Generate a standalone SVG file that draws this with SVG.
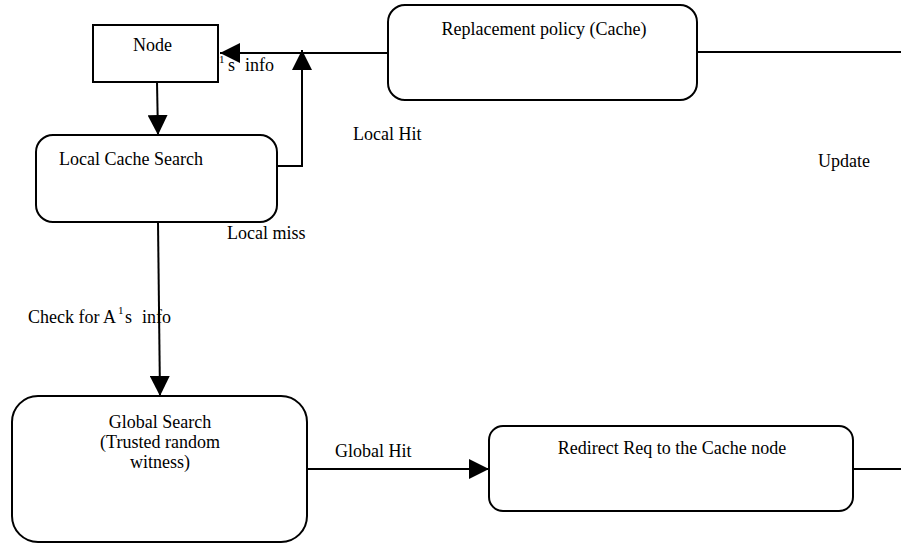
<svg xmlns="http://www.w3.org/2000/svg" width="901" height="543" viewBox="0 0 901 543">
  <style>
    text { font-family: "Liberation Serif", "Times New Roman", serif; font-size: 18px; fill: #000; }
    .sup { font-size: 11px; }
    .box { fill: #fff; stroke: #000; stroke-width: 2; }
    .edge { fill: none; stroke: #000; stroke-width: 2; }
  </style>
  <defs>
    <marker id="arrow" viewBox="0 0 20 20" refX="20" refY="10" markerWidth="20" markerHeight="20" markerUnits="userSpaceOnUse" orient="auto">
      <path d="M0,0 L20,10 L0,20 Z" fill="#000"/>
    </marker>
  </defs>
  <rect width="901" height="543" fill="#fff"/>

  <g id="connectors">
    <path class="edge" d="M388,53 H220" marker-end="url(#arrow)"/>
    <path class="edge" d="M277,166 H302 V50" marker-end="url(#arrow)"/>
    <path class="edge" d="M157,82 L158,135" marker-end="url(#arrow)"/>
    <path class="edge" d="M158,222 L160,396" marker-end="url(#arrow)"/>
    <path class="edge" d="M307,469 H489" marker-end="url(#arrow)"/>
    <path class="edge" d="M697,52 H901"/>
    <path class="edge" d="M853,469 H901"/>
  </g>

  <g id="node">
    <rect class="box" x="93" y="25" width="125" height="57"/>
    <text x="133" y="51">Node</text>
  </g>

  <g id="replacement-policy">
    <rect class="box" x="388" y="5" width="309" height="95" rx="17" ry="17"/>
    <text x="544" y="35" text-anchor="middle">Replacement policy (Cache)</text>
  </g>

  <g id="local-cache-search">
    <rect class="box" x="36" y="135" width="241" height="87" rx="17" ry="17"/>
    <text x="59" y="165">Local Cache Search</text>
  </g>

  <g id="global-search">
    <rect class="box" x="12" y="396" width="295" height="146" rx="26" ry="26"/>
    <text x="160" y="428" text-anchor="middle">Global Search</text>
    <text x="160" y="448" text-anchor="middle">(Trusted random</text>
    <text x="160" y="468" text-anchor="middle">witness)</text>
  </g>

  <g id="redirect">
    <rect class="box" x="489" y="426" width="364" height="85" rx="14" ry="14"/>
    <text x="672" y="454" text-anchor="middle">Redirect Req to the Cache node</text>
  </g>

  <g id="labels">
    <text x="219" y="71"><tspan class="sup" y="63">1</tspan><tspan x="228" y="71">s</tspan><tspan x="245">info</tspan></text>
    <text x="353" y="140">Local Hit</text>
    <text x="818" y="167">Update</text>
    <text x="227" y="239">Local miss</text>
    <text x="28" y="323">Check for A<tspan class="sup" x="118" y="314">1</tspan><tspan x="125" y="323">s</tspan><tspan x="142">info</tspan></text>
    <text x="335" y="457">Global Hit</text>
  </g>
</svg>
